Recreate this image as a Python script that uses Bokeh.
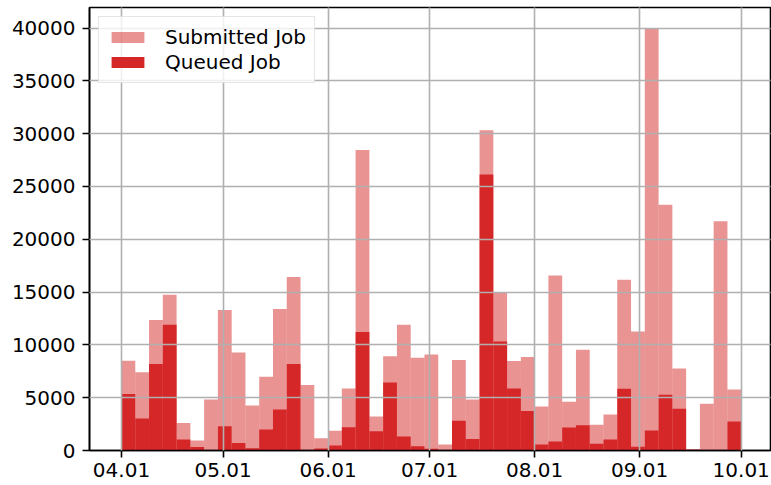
import numpy as np
from bokeh.plotting import figure
from bokeh.models import Range1d, FixedTicker, NumeralTickFormatter, Legend, LegendItem, ColumnDataSource
from bokeh.embed import file_html
from bokeh.resources import INLINE

# --- data (histogram counts per bin, 45 bins from 04.01 to 10.01) ---
submitted = [8500, 7400, 12350, 14750, 2600, 950, 4830, 13300, 9280, 4270,
             6980, 13400, 16430, 6200, 1170, 1880, 5880, 28450, 3220, 8930,
             11900, 8780, 9100, 570, 8580, 4830, 30330, 14980, 8470, 8850,
             4170, 16560, 4610, 9540, 2430, 3410, 16180, 11280, 39970, 23280,
             7770, 150, 4420, 21700, 5780]
queued = [5340, 3030, 8180, 11900, 1040, 320, 0, 2300, 700, 220,
          1990, 3890, 8180, 0, 190, 470, 2210, 11220, 1830, 6450,
          1330, 410, 160, 0, 2810, 1080, 26130, 10330, 5880, 3730,
          560, 850, 2180, 2400, 630, 1040, 5840, 350, 1900, 5280,
          3950, 0, 0, 0, 2750]
tick_days = [0, 30, 61, 91, 122, 153, 183]
tick_labels = ["04.01", "05.01", "06.01", "07.01", "08.01", "09.01", "10.01"]
series_names = ["Submitted Job", "Queued Job"]

n = len(submitted)
edges = np.linspace(tick_days[0], tick_days[-1], n + 1)

FONT = "DejaVu Sans"
FS = "20px"

p = figure(width=771, height=485, output_backend="svg", toolbar_location=None,
           x_range=Range1d(-9.45, 191.65), y_range=Range1d(0, 41950),
           min_border_left=89, min_border_right=1, min_border_top=7, min_border_bottom=35)

src_s = ColumnDataSource(dict(left=edges[:-1], right=edges[1:], top=submitted, bottom=[0]*n))
src_q = ColumnDataSource(dict(left=edges[:-1], right=edges[1:], top=queued, bottom=[0]*n))

r1 = p.quad(left="left", right="right", top="top", bottom="bottom", source=src_s,
            fill_color="#d62728", fill_alpha=0.5, line_color=None)
r2 = p.quad(left="left", right="right", top="top", bottom="bottom", source=src_q,
            fill_color="#d62728", fill_alpha=1.0, line_color=None)

p.xaxis.ticker = FixedTicker(ticks=tick_days)
p.xaxis.major_label_overrides = {d: l for d, l in zip(tick_days, tick_labels)}
p.yaxis.ticker = FixedTicker(ticks=list(range(0, 40001, 5000)))
p.yaxis.formatter = NumeralTickFormatter(format="0")

for ax in (p.xaxis, p.yaxis):
    ax.major_label_text_font = FONT
    ax.major_label_text_font_size = FS
    ax.major_label_text_color = "black"
    ax.major_tick_in = 0
    ax.major_tick_out = 7
    ax.major_tick_line_width = 1.6
    ax.major_tick_line_color = "black"
    ax.minor_tick_line_color = None
    ax.axis_line_color = "black"
    ax.axis_line_width = 1.6
p.xaxis.major_label_standoff = 5
p.yaxis.major_label_standoff = 7

p.outline_line_color = "black"
p.outline_line_width = 1.6

for g in (p.xgrid, p.ygrid):
    g.grid_line_color = "#b0b0b0"
    g.grid_line_width = 1.6
    g.level = "guide"
p.xgrid.ticker = FixedTicker(ticks=tick_days)
p.ygrid.ticker = FixedTicker(ticks=list(range(0, 40001, 5000)))

legend = Legend(items=[LegendItem(label=series_names[0], renderers=[r1]),
                       LegendItem(label=series_names[1], renderers=[r2])],
                location="top_left")
legend.margin = 9
legend.padding = 8
legend.spacing = 1
legend.glyph_width = 41
legend.glyph_height = 14
legend.label_standoff = 17
legend.label_text_font = FONT
legend.label_text_font_size = FS
legend.label_text_color = "black"
legend.border_line_color = "#cccccc"
legend.border_line_width = 1.2
legend.background_fill_alpha = 0.8
p.add_layout(legend)

open("out.html", "w").write(file_html(p, INLINE))
